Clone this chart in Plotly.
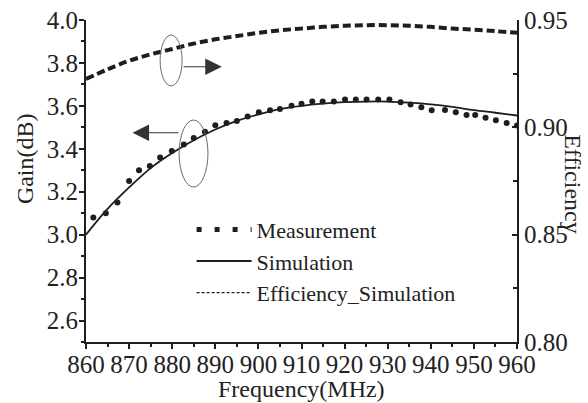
import plotly.graph_objects as go

# ---------------- data ----------------
freq_meas = [861.7, 864.6, 867.3, 870.0, 872.3, 874.8, 877.2, 879.9, 882.7, 885.0,
             887.6, 890.0, 892.6, 895.0, 897.5, 900.1, 902.7, 905.0, 907.7, 910.0,
             912.5, 914.9, 917.5, 920.1, 922.6, 925.1, 927.8, 930.4, 933.0, 935.3,
             937.8, 940.2, 943.3, 945.8, 948.3, 950.3, 952.7, 955.1, 957.6, 960.0]
gain_meas = [3.08, 3.10, 3.15, 3.25, 3.30, 3.32, 3.36, 3.39, 3.42, 3.45,
             3.48, 3.51, 3.52, 3.53, 3.55, 3.57, 3.58, 3.585, 3.60, 3.61,
             3.62, 3.62, 3.62, 3.63, 3.63, 3.63, 3.63, 3.63, 3.617, 3.606,
             3.593, 3.579, 3.581, 3.57, 3.558, 3.558, 3.545, 3.533, 3.52, 3.508]

freq_sim = [860, 865, 870, 875, 880, 885, 890, 895, 900, 905, 910,
            915, 920, 925, 930, 935, 940, 945, 950, 955, 960]
gain_sim = [3.00, 3.12, 3.22, 3.31, 3.38, 3.44, 3.49, 3.53, 3.56, 3.585, 3.60,
            3.61, 3.617, 3.62, 3.62, 3.615, 3.607, 3.595, 3.58, 3.568, 3.555]
eff_sim = [0.9225, 0.927, 0.931, 0.934, 0.9365, 0.939, 0.941, 0.9425, 0.944, 0.9452, 0.946,
           0.9468, 0.9473, 0.9476, 0.9476, 0.9473, 0.9468, 0.946, 0.9455, 0.9448, 0.944]

legend_names = ["Measurement", "Simulation", "Efficiency_Simulation"]

FONT = "Liberation Serif, Times New Roman, serif"
INK = "#1e1e1e"
TXT = "#222222"

fig = go.Figure()

# data traces
fig.add_trace(go.Scatter(x=freq_meas, y=gain_meas, mode="markers",
                         marker=dict(size=6, color=INK), showlegend=False))
fig.add_trace(go.Scatter(x=freq_sim, y=gain_sim, mode="lines", line_shape="spline",
                         line=dict(color=INK, width=1.8), showlegend=False))
fig.add_trace(go.Scatter(x=freq_sim, y=eff_sim, mode="lines", line_shape="spline",
                         line=dict(color=INK, width=4, dash="8px,4px"),
                         yaxis="y2", showlegend=False))

# legend entries
fig.add_trace(go.Scatter(x=[None], y=[None], mode="lines", name=legend_names[0],
                         line=dict(color=INK, width=5, dash="5px,13px")))
fig.add_trace(go.Scatter(x=[None], y=[None], mode="lines", name=legend_names[1],
                         line=dict(color=INK, width=2)))
fig.add_trace(go.Scatter(x=[None], y=[None], mode="lines", name=legend_names[2],
                         line=dict(color=INK, width=1.3, dash="3px,2px")))

axis_common = dict(showline=True, linecolor=INK, linewidth=1.8, showgrid=False,
                   zeroline=False, ticks="outside", ticklen=5, tickwidth=1.5,
                   automargin=False,
                   tickcolor=INK, tickfont=dict(family=FONT, size=25, color=TXT))

fig.update_layout(
    width=588, height=403,
    margin=dict(l=86, r=71, t=20, b=61),
    paper_bgcolor="white", plot_bgcolor="white",
    font=dict(family=FONT, color=TXT),
    xaxis=dict(range=[860, 960], dtick=10, tick0=860, ticklabelstandoff=-6,
               minor=dict(dtick=5, ticks="outside", ticklen=3, tickcolor=INK),
               **axis_common),
    yaxis=dict(range=[2.5, 4.0], tick0=2.6, dtick=0.2, tickformat=".1f",
               ticklabelstandoff=-4,
               minor=dict(dtick=0.1, ticks="outside", ticklen=3, tickcolor=INK),
               **axis_common),
    yaxis2=dict(range=[0.80, 0.95], tick0=0.80, dtick=0.05, tickformat=".2f",
                overlaying="y", side="right",
                minor=dict(dtick=0.025, ticks="inside", ticklen=4, tickcolor=INK),
                **{**axis_common, "ticks": "inside"}),
    legend=dict(x=0.245, y=0.414, xanchor="left", yanchor="top",
                bgcolor="rgba(0,0,0,0)", font=dict(family=FONT, size=22, color=TXT),
                itemwidth=55, tracegroupgap=0),
    showlegend=True,
)

# axis titles
fig.add_annotation(text="Frequency(MHz)", xref="paper", yref="paper", x=0.5,
                   y=(342 - 389) / 322, xanchor="center", yanchor="middle",
                   showarrow=False, font=dict(family=FONT, size=24, color=TXT))
fig.add_annotation(text="Gain(dB)", xref="paper", yref="paper", x=-0.14, y=0.57,
                   xanchor="center", yanchor="middle",
                   textangle=-90, showarrow=False, font=dict(family=FONT, size=24, color=TXT))
fig.add_annotation(text="Efficiency", xref="paper", yref="paper", x=1.13, y=0.49,
                   xanchor="center", yanchor="middle",
                   textangle=90, showarrow=False, font=dict(family=FONT, size=24, color=TXT))

# ellipses and arrows
fig.add_shape(type="circle", xref="x", yref="y", x0=877.2, x1=882.3, y0=3.693, y1=3.930,
              line=dict(color="#6a6a6a", width=1))
fig.add_shape(type="circle", xref="x", yref="y", x0=881.6, x1=888.3, y0=3.222, y1=3.534,
              line=dict(color="#6a6a6a", width=1))
fig.add_annotation(x=891.5, y=3.782, ax=882.3, ay=3.782, xref="x", yref="y",
                   axref="x", ayref="y", showarrow=True, arrowhead=2, arrowsize=3,
                   arrowwidth=1.1, arrowcolor="#333", text="")
fig.add_annotation(x=870.8, y=3.475, ax=881.8, ay=3.475, xref="x", yref="y",
                   axref="x", ayref="y", showarrow=True, arrowhead=2, arrowsize=3,
                   arrowwidth=1.1, arrowcolor="#333", text="")

fig.write_html("out.html", config={"displayModeBar": False},
               post_script="document.body.style.margin='0';")
